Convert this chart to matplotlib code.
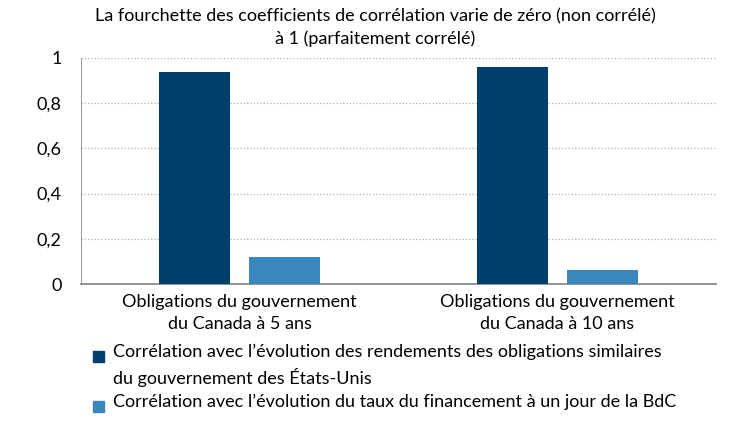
import numpy as np
import matplotlib.pyplot as plt
from matplotlib.patches import Rectangle

plt.rcParams["font.family"] = ["Lato", "DejaVu Sans"]

categories = ["Obligations du gouvernement\ndu Canada à 5 ans",
              "Obligations du gouvernement\ndu Canada à 10 ans"]
serie_eu = [0.937, 0.959]
serie_bdc = [0.121, 0.060]
y_ticks = [0, 0.2, 0.4, 0.6, 0.8, 1]
y_labels = ["0", "0,2", "0,4", "0,6", "0,8", "1"]
noms = ["Corrélation avec l’évolution des rendements des obligations similaires\n"
        "du gouvernement des États-Unis",
        "Corrélation avec l’évolution du taux du financement à un jour de la BdC"]

C_FONCE = "#003F6B"
C_CLAIR = "#3B87BD"
W, H = 750, 422

fig = plt.figure(figsize=(7.5, 4.22), dpi=100)
ax = fig.add_axes([0.108, 0.327, 0.847, 0.536])

x = np.arange(len(categories))
w = 0.224
ax.bar(x - 0.142, serie_eu, width=w, color=C_FONCE, zorder=3)
ax.bar(x + 0.142, serie_bdc, width=w, color=C_CLAIR, zorder=3)

ax.set_xlim(-0.5, 1.5)
ax.set_ylim(0, 1)
ax.set_yticks(y_ticks)
ax.set_yticklabels(y_labels, fontsize=13)
ax.set_xticks(x)
ax.set_xticklabels(categories, fontsize=13, linespacing=1.45)
ax.tick_params(length=0, pad=7)
ax.tick_params(axis="y", pad=14)

ax.grid(axis="y", ls=":", color="#b0b0b0", lw=0.9, zorder=0)
for s in ["top", "right"]:
    ax.spines[s].set_visible(False)
ax.spines["left"].set_color("#a0a0a0")
ax.spines["bottom"].set_color("#808080")
ax.spines["bottom"].set_linewidth(1.2)

fig.text(0.5, 1 - 8 / H, "La fourchette des coefficients de corrélation varie de zéro (non corrélé)\n"
         "à 1 (parfaitement corrélé)", ha="center", va="top", fontsize=13,
         linespacing=1.5)

# legende dessinee a la main: carre aligne sur la premiere ligne du texte
for nom, couleur, y_px in [(noms[0], C_FONCE, 356), (noms[1], C_CLAIR, 406)]:
    fig.patches.append(Rectangle((93 / W, 1 - (y_px + 6) / H), 11 / W, 11 / H,
                                 transform=fig.transFigure, color=couleur))
    fig.text(113 / W, 1 - (y_px - 12) / H, nom, ha="left", va="top",
             fontsize=13, linespacing=1.5)

fig.savefig("out.png", dpi=100)
